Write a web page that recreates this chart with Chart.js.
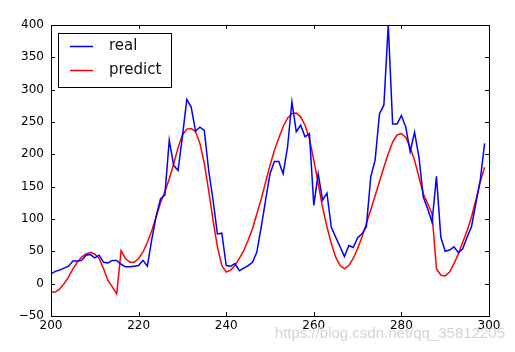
<!DOCTYPE html>
<html>
<head>
<meta charset="utf-8">
<script src="https://cdn.jsdelivr.net/npm/chart.js@4"></script>
<style>
  html, body { margin: 0; padding: 0; background: #fff; }
  #wrap { width: 515px; height: 352px; }
</style>
</head>
<body>
<div id="wrap"><canvas id="chart" width="515" height="352"></canvas></div>
<script>
const xValues = [
  200, 201, 202, 203, 204, 205, 206, 207, 208, 209,
  210, 211, 212, 213, 214, 215, 216, 217, 218, 219,
  220, 221, 222, 223, 224, 225, 226, 227, 228, 229,
  230, 231, 232, 233, 234, 235, 236, 237, 238, 239,
  240, 241, 242, 243, 244, 245, 246, 247, 248, 249,
  250, 251, 252, 253, 254, 255, 256, 257, 258, 259,
  260, 261, 262, 263, 264, 265, 266, 267, 268, 269,
  270, 271, 272, 273, 274, 275, 276, 277, 278, 279,
  280, 281, 282, 283, 284, 285, 286, 287, 288, 289,
  290, 291, 292, 293, 294, 295, 296, 297, 298, 299
];

const realValues = [
  15, 19, 21, 24, 27, 35, 35, 36, 44, 45,
  40, 44, 33, 32, 36, 36, 30, 26, 26, 27,
  28, 36, 27, 68, 104, 131, 137, 222, 183, 175,
  227, 285, 273, 236, 242, 237, 175, 129, 77, 78,
  28, 27, 31, 20, 24, 28, 33, 49, 88, 129,
  170, 189, 189, 170, 211, 281, 235, 245, 227, 232,
  121, 170, 129, 140, 87, 72, 57, 42, 59, 56,
  71, 77, 88, 165, 191, 263, 276, 400, 247, 247,
  260, 242, 204, 234, 196, 134, 116, 95, 166, 72,
  50, 52, 57, 48, 54, 72, 88, 124, 160, 217
];

const predictValues = [
  -13, -13, -8, 0, 10, 23, 33, 41, 46, 48,
  46, 39, 23, 5, -5, -16, 51, 39, 33, 33,
  39, 49, 64, 82, 103, 125, 142, 162, 185, 210,
  230, 239, 240, 235, 217, 186, 144, 98, 57, 28,
  18, 21, 28, 39, 51, 67, 85, 108, 131, 157,
  183, 206, 225, 243, 256, 263, 264, 258, 245, 224,
  191, 155, 118, 88, 62, 41, 28, 23, 28, 39,
  54, 72, 93, 114, 136, 158, 180, 201, 219, 230,
  232, 226, 211, 191, 165, 139, 124, 108, 23, 13,
  12, 18, 31, 46, 64, 82, 103, 129, 157, 180
];

const xTicks = [200, 220, 240, 260, 280, 300];
const yTicks = [-50, 0, 50, 100, 150, 200, 250, 300, 350, 400];

const tickFont = { family: "DejaVu Sans", size: 12 };

// matplotlib style box: frame on all sides with inward ticks
const framePlugin = {
  id: "frame",
  afterDraw(chart) {
    const { ctx, chartArea: a } = chart;
    const xs = chart.scales.x, ys = chart.scales.y;
    ctx.save();
    ctx.strokeStyle = "#000";
    ctx.lineWidth = 1;
    ctx.beginPath();
    xs.ticks.forEach(t => {
      const px = Math.round(xs.getPixelForValue(t.value)) + 0.5;
      ctx.moveTo(px, a.bottom); ctx.lineTo(px, a.bottom - 4);
      ctx.moveTo(px, a.top); ctx.lineTo(px, a.top + 4);
    });
    ys.ticks.forEach(t => {
      const py = Math.round(ys.getPixelForValue(t.value)) + 0.5;
      ctx.moveTo(a.left, py); ctx.lineTo(a.left + 4, py);
      ctx.moveTo(a.right, py); ctx.lineTo(a.right - 4, py);
    });
    ctx.stroke();
    ctx.strokeRect(Math.round(a.left) + 0.5, Math.round(a.top) + 0.5,
      Math.round(a.right - a.left), Math.round(a.bottom - a.top));

    // legend box
    const lx = 58, ly = 33, lw = 113, lh = 54;
    ctx.fillStyle = "#fff";
    ctx.fillRect(lx, ly, lw, lh);
    ctx.strokeRect(lx + 0.5, ly + 0.5, lw, lh);
    ctx.font = "15px DejaVu Sans";
    ctx.textBaseline = "middle";
    chart.data.datasets.forEach((ds, i) => {
      const cy = 46.5 + i * 24;
      ctx.strokeStyle = ds.borderColor;
      ctx.lineWidth = 1.5;
      ctx.beginPath();
      ctx.moveTo(70, cy); ctx.lineTo(93, cy);
      ctx.stroke();
      ctx.fillStyle = "#111";
      ctx.fillText(ds.label, 109, cy);
    });

    // watermark
    ctx.font = "15px Liberation Sans";
    ctx.fillStyle = "#d4d4d4";
    ctx.textAlign = "right";
    ctx.fillText("https://blog.csdn.net/qq_35812205", 505, 334);
    ctx.restore();
  }
};

new Chart(document.getElementById("chart"), {
  type: "line",
  data: {
    datasets: [
      {
        label: "real",
        data: xValues.map((x, i) => ({ x: x, y: realValues[i] })),
        borderColor: "#0000ff",
        borderWidth: 1.5,
        pointRadius: 0,
        tension: 0,
      },
      {
        label: "predict",
        data: xValues.map((x, i) => ({ x: x, y: predictValues[i] })),
        borderColor: "#ff0000",
        borderWidth: 1.5,
        pointRadius: 0,
        tension: 0,
      },
    ],
  },
  options: {
    responsive: false,
    animation: false,
    events: [],
    layout: {
      padding: { top: 25, right: 26, left: 0, bottom: 0 },
    },
    scales: {
      x: {
        type: "linear",
        min: 200,
        max: 300,
        afterBuildTicks: s => { s.ticks = xTicks.map(v => ({ value: v })); },
        afterFit: s => { s.height = 36; },
        ticks: { color: "#000", font: tickFont, padding: 3, maxRotation: 0 },
        grid: { display: false, drawTicks: false },
        border: { display: false },
      },
      y: {
        min: -50,
        max: 400,
        afterBuildTicks: s => { s.ticks = yTicks.map(v => ({ value: v })); },
        afterFit: s => { s.width = 51; },
        ticks: {
          color: "#000",
          font: tickFont,
          padding: 7,
          callback: v => String(v).replace("-", "\u2212"),
        },
        grid: { display: false, drawTicks: false },
        border: { display: false },
      },
    },
    plugins: {
      legend: { display: false },
      tooltip: { enabled: false },
    },
  },
  plugins: [framePlugin],
});
</script>
</body>
</html>
